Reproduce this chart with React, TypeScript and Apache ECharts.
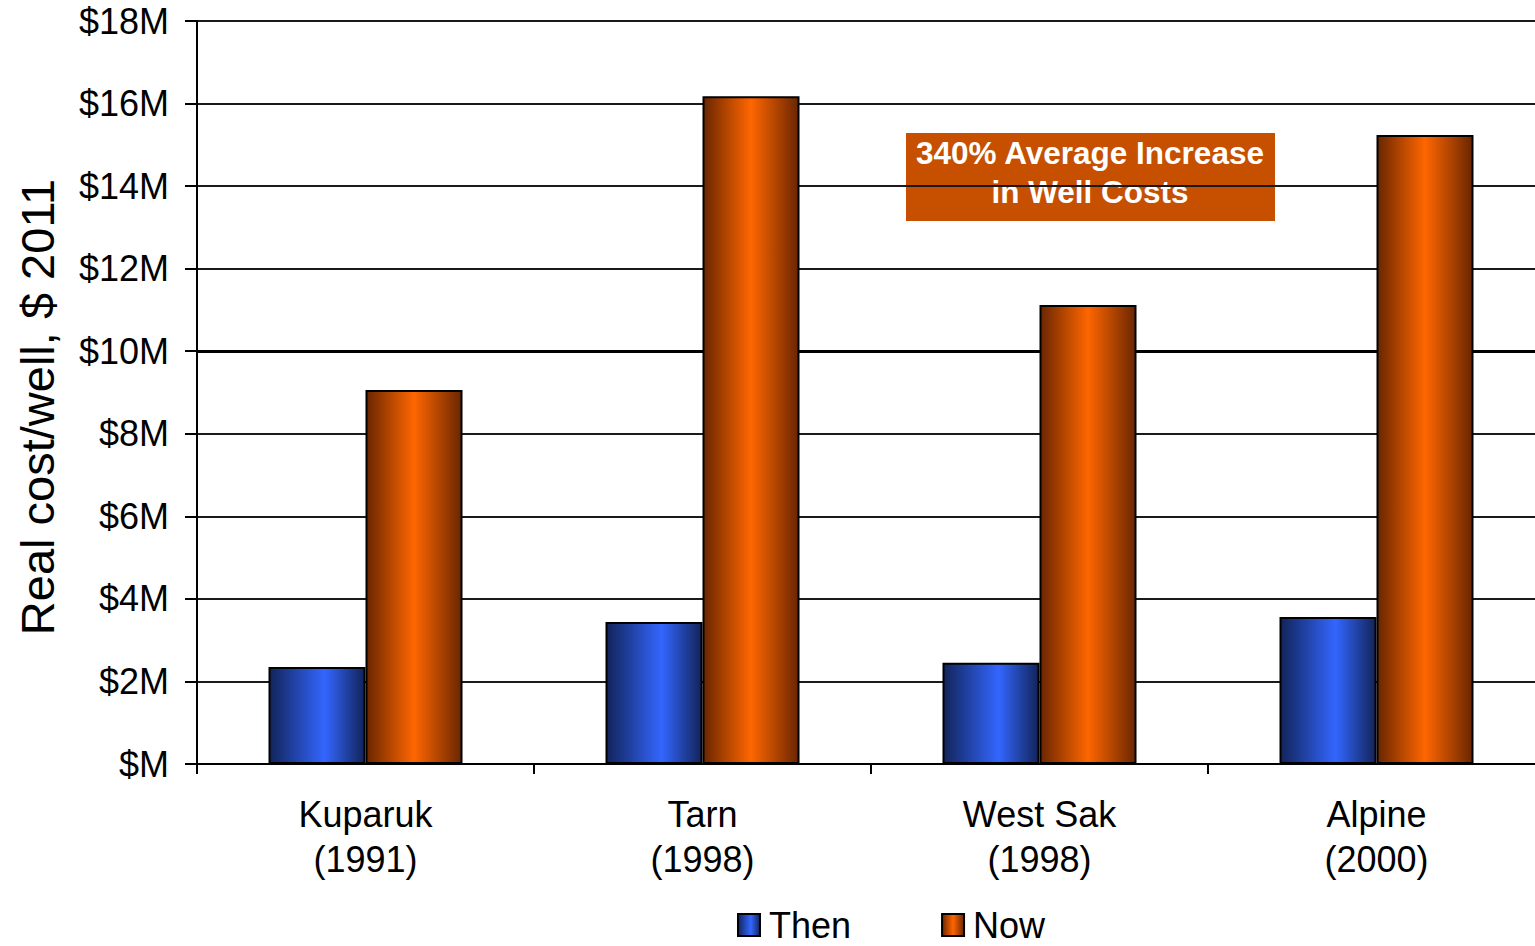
import React, { useEffect, useRef } from "react";
import * as echarts from "echarts";

const fields = ["Kuparuk\n(1991)", "Tarn\n(1998)", "West Sak\n(1998)", "Alpine\n(2000)"];
const thenCost = [2.35, 3.44, 2.45, 3.56];
const nowCost = [9.06, 16.18, 11.12, 15.24];
const yTicks = { min: 0, max: 18, interval: 2 };

const FONT = "'Liberation Sans', Arial, sans-serif";

const blueFill = new echarts.graphic.LinearGradient(0, 0, 1, 0, [
  { offset: 0, color: "#12245a" },
  { offset: 0.58, color: "#3366ff" },
  { offset: 1, color: "#12245a" },
]);
const orangeFill = new echarts.graphic.LinearGradient(0, 0, 1, 0, [
  { offset: 0, color: "#6a2600" },
  { offset: 0.5, color: "#ff6600" },
  { offset: 1, color: "#6a2600" },
]);

export default function App() {
  const ref = useRef<HTMLDivElement>(null);

  useEffect(() => {
    if (!ref.current) return;
    const chart = echarts.init(ref.current, undefined, { renderer: "svg" });
    chart.setOption({
      animation: false,
      backgroundColor: "#ffffff",
      // plot area runs a little past the right edge of the canvas
      grid: { left: 197, width: 1348, top: 21, height: 743, outerBoundsMode: "none" },
      legend: {
        left: 732,
        top: 902,
        icon: "rect",
        itemWidth: 22,
        itemHeight: 22,
        itemGap: 90,
        itemStyle: { borderColor: "#000", borderWidth: 2 },
        textStyle: { fontFamily: FONT, fontSize: 36, color: "#000", padding: [0, 0, 0, 4] },
        data: ["Then", "Now"],
      },
      xAxis: {
        type: "category",
        data: fields,
        axisLine: { lineStyle: { color: "#000", width: 2 } },
        axisTick: { show: true, length: 10, lineStyle: { color: "#000", width: 2 } },
        axisLabel: {
          fontFamily: FONT,
          fontSize: 36,
          color: "#000",
          lineHeight: 45,
          margin: 28,
        },
      },
      yAxis: {
        type: "value",
        ...yTicks,
        axisLine: { show: true, lineStyle: { color: "#000", width: 2 } },
        axisTick: { show: true, inside: false, length: 12, lineStyle: { color: "#000", width: 2 } },
        axisLabel: {
          fontFamily: FONT,
          fontSize: 36,
          color: "#000",
          margin: 28,
          formatter: (v: number) => "$" + (v === 0 ? "" : v) + "M",
        },
        splitLine: { show: true, lineStyle: { color: "#1a1a1a", width: 2 } },
      },
      series: [
        {
          name: "Then",
          type: "bar",
          data: thenCost,
          barWidth: 97,
          barGap: "0%",
          itemStyle: { color: blueFill, borderColor: "#000", borderWidth: 2 },
          markLine: {
            silent: true,
            symbol: "none",
            label: { show: false },
            lineStyle: { color: "#000", width: 3, type: "solid" },
            data: [{ yAxis: 10 }],
            z: 1,
          },
        },
        {
          name: "Now",
          type: "bar",
          data: nowCost,
          barWidth: 97,
          itemStyle: { color: orangeFill, borderColor: "#000", borderWidth: 2 },
        },
      ],
      graphic: [
        {
          type: "text",
          x: 37,
          y: 407,
          rotation: Math.PI / 2,
          style: {
            text: "Real cost/well, $ 2011",
            fill: "#000",
            font: "47px " + FONT,
            textAlign: "center",
            textVerticalAlign: "middle",
          },
        },
        {
          type: "group",
          left: 906,
          top: 133,
          children: [
            {
              type: "rect",
              shape: { x: 0, y: 0, width: 369, height: 88 },
              style: { fill: "#c65000" },
            },
            {
              type: "text",
              x: 184,
              y: 20,
              style: {
                text: "340% Average Increase",
                fill: "#fff",
                font: "bold 31.5px " + FONT,
                textAlign: "center",
                textVerticalAlign: "middle",
              },
            },
            {
              type: "text",
              x: 184,
              y: 59,
              style: {
                text: "in Well Costs",
                fill: "#fff",
                font: "bold 31.5px " + FONT,
                textAlign: "center",
                textVerticalAlign: "middle",
              },
            },
          ],
        },
      ],
    });
    return () => chart.dispose();
  }, []);

  return (
    <div
      ref={ref}
      style={{ position: "fixed", left: 0, top: 0, width: 1535, height: 946 }}
    />
  );
}
